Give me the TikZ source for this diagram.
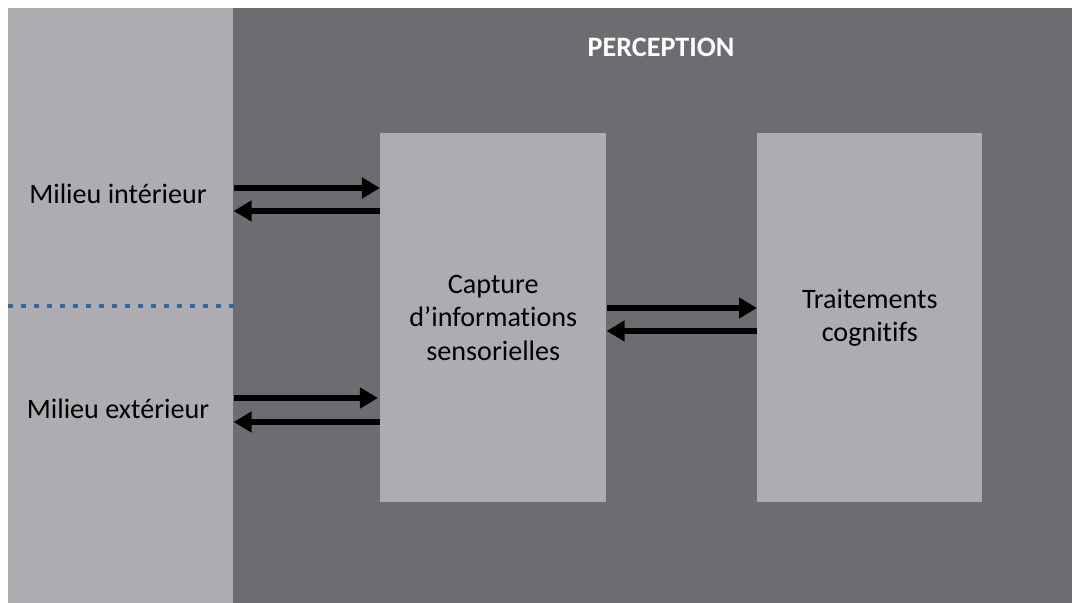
\documentclass[tikz,border=0pt]{standalone}
\usepackage{fontspec}
\setmainfont{Carlito}[Ligatures=NoCommon]
\usepackage{tikz}
\usetikzlibrary{arrows.meta, positioning, calc}
\definecolor{envgray}{HTML}{ADACB0}
\definecolor{percgray}{HTML}{6D6C71}
\definecolor{sepblue}{HTML}{2E6AA8}

\begin{document}
\begin{tikzpicture}[
        x=0.025cm, y=-0.025cm,
        panel/.style = {rectangle, inner sep=0pt, anchor=north west, minimum height=14.875cm},
        box/.style = {rectangle, inner sep=0pt, anchor=north west, fill=envgray, minimum width=5.625cm, minimum height=9.225cm, align=center, font=\fontsize{20}{24}\selectfont},
        envtext/.style = {anchor=base, inner sep=0pt, font=\fontsize{20}{24}\selectfont},
        sepline/.style = {draw=sepblue, line width=0.11cm, dash pattern=on 0.125cm off 0.2cm},
        arrow/.style = {draw=black, line width=0.15cm, -{Triangle[length=0.45cm, width=0.5cm]}}
    ]

        % Frame
        \useasboundingbox (0,0) rectangle (1072,603);

        % Panels
        \node (env) [panel, fill=envgray, minimum width=5.625cm] at (8,8) {};
        \node (perc) [panel, fill=percgray, minimum width=20.975cm] at (233,8) {};
        \node (percTitle) [envtext, text=white, font=\fontsize{20}{24}\selectfont\bfseries] at (661,57) {PERCEPTION};

        % Environment
        \node (inner) [envtext] at (118,204) {Milieu intérieur};
        \node (outer) [envtext] at (118,418) {Milieu extérieur};
        \coordinate (levSep) at (0,306);
        \draw [sepline] (env.west |- levSep) -- (env.east |- levSep);

        % Blocks
        \node (capture) [box, minimum width=5.65cm] at (380,133) {Capture\\d’informations\\sensorielles};
        \node (cognitive) [box] at (757,133) {Traitements\\cognitifs};

        % Arrow levels
        \coordinate (levInA) at (0,188);
        \coordinate (levInB) at (0,211);
        \coordinate (levMidA) at (0,308);
        \coordinate (levMidB) at (0,331);
        \coordinate (levOutA) at (0,398);
        \coordinate (levOutB) at (0,422);

        % Arrows
        \draw [arrow] (env.east |- levInA) -- (capture.west |- levInA);
        \draw [arrow] (capture.west |- levInB) -- (env.east |- levInB);
        \draw [arrow] (env.east |- levOutA) -- ([xshift=-0.05cm]capture.west |- levOutA);
        \draw [arrow] (capture.west |- levOutB) -- (env.east |- levOutB);
        \draw [arrow] (capture.east |- levMidA) -- (cognitive.west |- levMidA);
        \draw [arrow] (cognitive.west |- levMidB) -- (capture.east |- levMidB);

    \end{tikzpicture}
\end{document}
